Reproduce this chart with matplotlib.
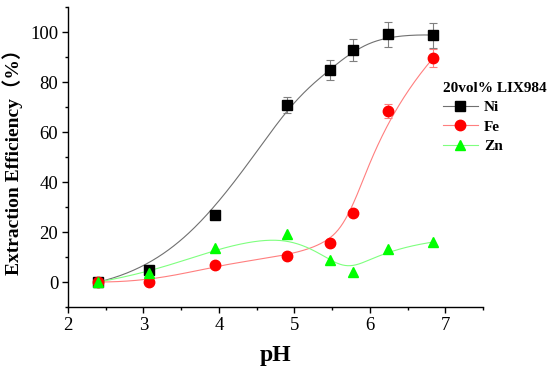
import numpy as np
import matplotlib.pyplot as plt

# values
ph = [2.4, 3.08, 3.95, 4.9, 5.47, 5.78, 6.24, 6.84]
ni = [0.0, 4.8, 26.8, 70.8, 84.8, 92.8, 99.2, 98.8]
ni_err = [0, 0, 0, 3.2, 4.0, 4.5, 5.0, 5.0]
fe = [0.0, 0.0, 6.8, 10.4, 15.6, 27.6, 68.4, 89.6]
fe_err = [0, 0, 0, 0, 0, 0, 2.8, 3.5]
zn = [0.0, 3.6, 13.6, 19.2, 8.8, 4.0, 13.2, 16.0]

plt.rcParams['font.family'] = ['Liberation Serif', 'Noto Sans CJK SC']


def bspline(px, py, n=300, k=3):
    # Origin-style B-spline: data points used as control points
    P = np.column_stack([px, py])
    m = len(P)
    knots = np.concatenate([np.zeros(k), np.linspace(0, 1, m - k + 1), np.ones(k)])
    t = np.linspace(0, 1, n)
    t[-1] -= 1e-9
    B = np.array([((knots[i] <= t) & (t < knots[i + 1])).astype(float)
                  for i in range(len(knots) - 1)]).T
    for p in range(1, k + 1):
        newB = np.zeros((n, len(knots) - 1 - p))
        for i in range(len(knots) - 1 - p):
            d1 = knots[i + p] - knots[i]
            d2 = knots[i + p + 1] - knots[i + 1]
            if d1 > 0:
                newB[:, i] += (t - knots[i]) / d1 * B[:, i]
            if d2 > 0:
                newB[:, i] += (knots[i + p + 1] - t) / d2 * B[:, i + 1]
        B = newB
    c = B @ P
    return c[:, 0], c[:, 1]


fig = plt.figure(figsize=(5.5, 3.71), dpi=100)
ax = fig.add_axes([0.1236, 0.1725, 0.7545, 0.8085])

bx, by = bspline(ph, ni)
ax.plot(bx, by, color='#707070', lw=0.8)
bx, by = bspline(ph, fe)
ax.plot(bx, by, color='#ff7f7f', lw=0.8)
bx, by = bspline(ph, zn)
ax.plot(bx, by, color='#7fff7f', lw=0.8)

ax.errorbar(ph, ni, yerr=ni_err, fmt='none', ecolor='#7f7f7f', elinewidth=0.8, capsize=3, capthick=0.8)
ax.errorbar(ph, fe, yerr=fe_err, fmt='none', ecolor='#ff7f7f', elinewidth=0.8, capsize=3, capthick=0.8)
ax.plot(ph, ni, 's', color='black', ms=6.5, zorder=5)
ax.plot(ph, fe, 'o', color='#ff0000', ms=7.5, zorder=5)
ax.plot(ph, zn, '^', color='#00ff00', ms=7.5, zorder=5)

# legend handles
h1, = ax.plot([], [], '-s', color='#707070', mfc='black', mec='black', ms=6.5, lw=0.8)
h2, = ax.plot([], [], '-o', color='#ff7f7f', mfc='#ff0000', mec='#ff0000', ms=7.5, lw=0.8)
h3, = ax.plot([], [], '-^', color='#7fff7f', mfc='#00ff00', mec='#00ff00', ms=7.5, lw=0.8)
leg = ax.legend([h1, h2, h3], ['Ni', 'Fe', 'Zn'], title='20vol% LIX984',
                loc='upper left', bbox_to_anchor=(0.805, 0.78), bbox_transform=fig.transFigure,
                frameon=False, prop={'weight': 'bold', 'size': 11},
                title_fontproperties={'weight': 'bold', 'size': 11},
                alignment='left', handlelength=2.3, handletextpad=0.4,
                labelspacing=0.38, borderpad=0, borderaxespad=0)

ax.set_xlim(2, 7.5)
ax.set_ylim(-10, 110)
ax.set_xticks([2, 3, 4, 5, 6, 7])
ax.set_xticks(np.arange(2.5, 7.6, 1), minor=True)
ax.set_yticks([0, 20, 40, 60, 80, 100])
ax.set_yticks(np.arange(-10, 111, 20), minor=True)
ax.tick_params(which='major', direction='out', length=4, width=1, labelsize=13.5, pad=3)
ax.tick_params(which='minor', direction='out', length=2.5, width=1)
ax.spines['top'].set_visible(False)
ax.spines['right'].set_visible(False)
for s in ['left', 'bottom']:
    ax.spines[s].set_linewidth(1)

ax.set_xlabel('pH', fontsize=17, fontweight='bold', labelpad=8)
ax.set_ylabel('Extraction Efficiency（%）', fontsize=14, fontweight='bold', labelpad=5)

fig.savefig('out.png', dpi=100)
